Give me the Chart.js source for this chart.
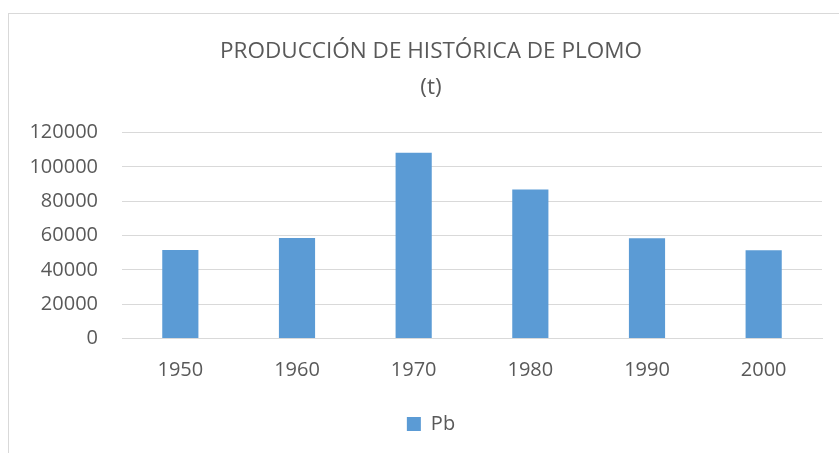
<!DOCTYPE html>
<html lang="es">
<head>
<meta charset="utf-8">
<title>Producción histórica de plomo</title>
<script src="https://cdn.jsdelivr.net/npm/chart.js@4"></script>
<style>
  body { margin: 0; background: #fff; }
  #wrap { position: relative; width: 839px; height: 453px; overflow: hidden; }
  #frame { position: absolute; left: 8px; top: 13px; width: 900px; height: 500px; border: 1px solid #d9d9d9; }
  #box { position: absolute; left: 0; top: 0; width: 839px; height: 453px; }
</style>
</head>
<body>
<div id="wrap">
  <div id="frame"></div>
  <div id="box"><canvas id="chart"></canvas></div>
</div>
<script>
// datos
const years = ["1950", "1960", "1970", "1980", "1990", "2000"];
const plomo = [51600, 58600, 108200, 86800, 58400, 51400];
const titleLines = ["PRODUCCIÓN DE HISTÓRICA DE PLOMO", "(t)"];
const seriesName = "Pb";

const gris = "#595959";
const azul = "#5B9BD5";

Chart.defaults.font.family = "'Open Sans', sans-serif";
Chart.defaults.color = gris;

// el marco del gráfico sigue más allá del borde derecho, así que título y leyenda
// quedan centrados un poco a la derecha del área de trazado
const shiftBlocks = {
  id: "shiftBlocks",
  afterLayout(chart) {
    const dx = 20;
    [chart.titleBlock, chart.legend].forEach((b) => {
      b.left += dx;
      b.right += dx;
    });
  },
};

new Chart(document.getElementById("chart"), {
  type: "bar",
  data: {
    labels: years,
    datasets: [
      {
        label: seriesName,
        data: plomo,
        backgroundColor: azul,
        borderWidth: 0,
        barPercentage: 0.31,
        categoryPercentage: 1,
      },
    ],
  },
  options: {
    responsive: true,
    maintainAspectRatio: false,
    animation: false,
    layout: { padding: { left: 0, right: 17, top: 0, bottom: 9 } },
    plugins: {
      title: {
        display: true,
        text: titleLines,
        color: gris,
        font: { size: 22.5, weight: "normal", lineHeight: 1.6 },
        padding: { top: 34, bottom: 26.5 },
      },
      legend: {
        position: "bottom",
        labels: {
          boxWidth: 14,
          boxHeight: 14,
          color: gris,
          font: { size: 20 },
          padding: 11.5,
        },
      },
      tooltip: { enabled: false },
    },
    scales: {
      x: {
        grid: { display: false, drawTicks: false },
        border: { display: true, color: "#d9d9d9", width: 1 },
        ticks: { color: gris, font: { size: 20 }, padding: 20 },
      },
      y: {
        min: 0,
        max: 120000,
        grid: { color: "#d9d9d9", lineWidth: 1, drawTicks: false },
        border: { display: false },
        ticks: {
          stepSize: 20000,
          color: gris,
          font: { size: 20 },
          padding: 24,
          callback: (v) => String(v),
        },
        afterFit: (axis) => { axis.width = 122; },
      },
    },
  },
  plugins: [shiftBlocks],
});
</script>
</body>
</html>
